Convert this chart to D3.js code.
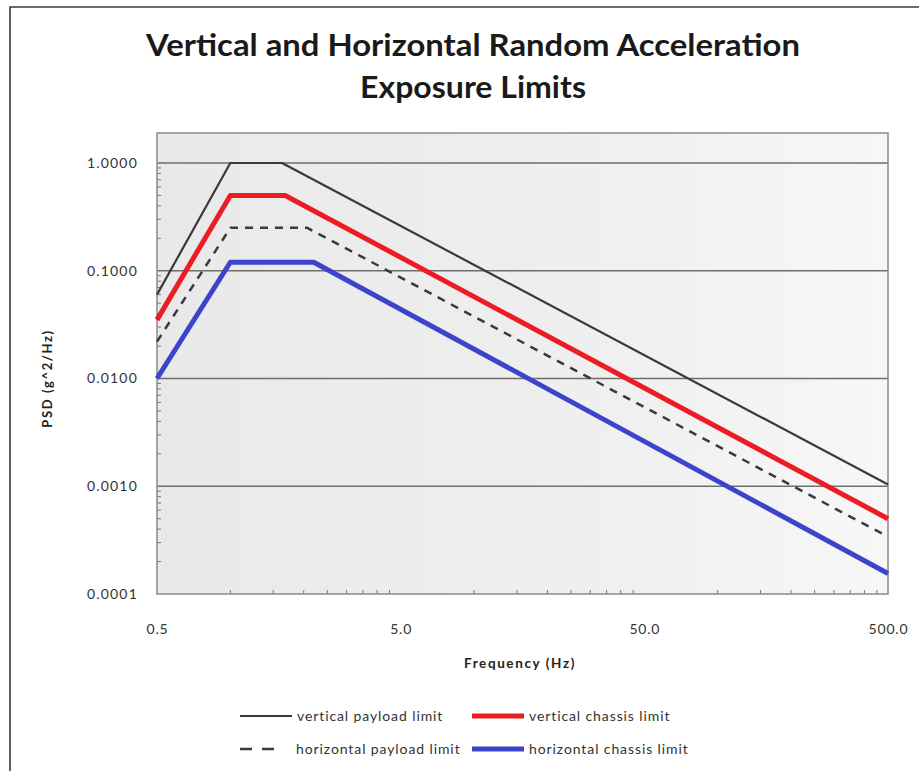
<!DOCTYPE html>
<html>
<head>
<meta charset="utf-8">
<script src="https://cdn.jsdelivr.net/npm/d3@7"></script>
<style>
  html, body { margin: 0; padding: 0; background: #fff; }
  svg { display: block; }
  text { font-family: Lato, "Open Sans", sans-serif; }
</style>
</head>
<body>
<svg id="chart" width="919" height="771"></svg>
<script>
// Frequency (Hz) break points and PSD (g^2/Hz) levels for each limit curve
const seriesNames = ["vertical payload limit", "vertical chassis limit",
                     "horizontal payload limit", "horizontal chassis limit"];
const verticalPayloadFreq   = [0.5, 1.0, 1.63, 500];
const verticalPayloadPSD    = [0.06, 1.0, 1.0, 0.00104];
const verticalChassisFreq   = [0.5, 1.0, 1.68, 500];
const verticalChassisPSD    = [0.035, 0.5, 0.5, 0.0005];
const horizontalPayloadFreq = [0.5, 1.0, 2.07, 500];
const horizontalPayloadPSD  = [0.022, 0.25, 0.25, 0.00034];
const horizontalChassisFreq = [0.5, 1.0, 2.2, 500];
const horizontalChassisPSD  = [0.01, 0.12, 0.12, 0.000155];

const xTickValues = [0.5, 5, 50, 500];
const xTickLabels = ["0.5", "5.0", "50.0", "500.0"];
const yTickValues = [0.0001, 0.001, 0.01, 0.1, 1];
const yTickLabels = ["0.0001", "0.0010", "0.0100", "0.1000", "1.0000"];

const titleLines = ["Vertical and Horizontal Random Acceleration", "Exposure Limits"];
const xTitle = "Frequency (Hz)";
const yTitle = "PSD (g^2/Hz)";

const svg = d3.select("#chart");
const W = 919, H = 771;

// plot geometry
const plot = { left: 157, right: 888, top: 133, bottom: 594, yTop: 163 };

const x = d3.scaleLog().domain([0.5, 500]).range([plot.left, plot.right]);
const y = d3.scaleLog().domain([0.0001, 1]).range([plot.bottom, plot.yTop]);

// outer chart border (top and left edges)
svg.append("path")
  .attr("d", `M10,${H} L10,7 L${W},7`)
  .attr("fill", "none").attr("stroke", "#3a3a3a").attr("stroke-width", 1.6);

// title
const title = svg.append("g");
title.append("text").attr("x", 473).attr("y", 56)
  .attr("text-anchor", "middle").attr("font-weight", 700).attr("font-size", 31)
  .attr("fill", "#1a1a1a")
  .attr("textLength", 654).attr("lengthAdjust", "spacingAndGlyphs")
  .text(titleLines[0]);
title.append("text").attr("x", 473).attr("y", 98)
  .attr("text-anchor", "middle").attr("font-weight", 700).attr("font-size", 31)
  .attr("fill", "#1a1a1a")
  .attr("textLength", 226).attr("lengthAdjust", "spacingAndGlyphs")
  .text(titleLines[1]);

// plot background: light stippled gray, denser to the left
const defs = svg.append("defs");
const grad = defs.append("linearGradient").attr("id", "bg")
  .attr("x1", "0").attr("y1", "0").attr("x2", "1").attr("y2", "0");
grad.append("stop").attr("offset", "0").attr("stop-color", "#e9e9e9");
grad.append("stop").attr("offset", "0.6").attr("stop-color", "#efefef");
grad.append("stop").attr("offset", "1").attr("stop-color", "#f7f7f7");

svg.append("rect")
  .attr("x", plot.left).attr("y", plot.top)
  .attr("width", plot.right - plot.left).attr("height", plot.bottom - plot.top)
  .attr("fill", "url(#bg)");

// horizontal gridlines at each decade
svg.append("g").selectAll("line").data(yTickValues.slice(1)).join("line")
  .attr("x1", plot.left).attr("x2", plot.right)
  .attr("y1", d => y(d)).attr("y2", d => y(d))
  .attr("stroke", "#6e6e6e").attr("stroke-width", 1.5);

// minor ticks
const xMinor = [];
xTickValues.slice(0, -1).forEach(b => { for (let k = 2; k <= 9; k++) xMinor.push(b * k); });
const yMinor = [];
yTickValues.slice(0, -1).forEach(b => { for (let k = 2; k <= 9; k++) yMinor.push(b * k); });

svg.append("g").selectAll("line").data(xMinor).join("line")
  .attr("x1", d => x(d)).attr("x2", d => x(d))
  .attr("y1", plot.bottom).attr("y2", plot.bottom - 4)
  .attr("stroke", "#777").attr("stroke-width", 1);
svg.append("g").selectAll("line").data(yMinor).join("line")
  .attr("x1", plot.left).attr("x2", plot.left + 4)
  .attr("y1", d => y(d)).attr("y2", d => y(d))
  .attr("stroke", "#777").attr("stroke-width", 1);

// plot frame
svg.append("rect")
  .attr("x", plot.left).attr("y", plot.top)
  .attr("width", plot.right - plot.left).attr("height", plot.bottom - plot.top)
  .attr("fill", "none").attr("stroke", "#8a8a8a").attr("stroke-width", 1.5);

// axes (labels only)
const xAxis = d3.axisBottom(x).tickValues(xTickValues)
  .tickFormat((d, i) => xTickLabels[i]).tickSize(0).tickPadding(30);
const gx = svg.append("g").attr("transform", `translate(0,${plot.bottom})`).call(xAxis);
gx.select(".domain").remove();
gx.selectAll("text").attr("font-size", 14).attr("fill", "#333")
  .attr("letter-spacing", 0.8)
  .attr("font-family", "Lato, sans-serif");

const yAxis = d3.axisLeft(y).tickValues(yTickValues)
  .tickFormat((d, i) => yTickLabels[i]).tickSize(0).tickPadding(19);
const gy = svg.append("g").attr("transform", `translate(${plot.left},0)`).call(yAxis);
gy.select(".domain").remove();
gy.selectAll("text").attr("font-size", 14).attr("fill", "#333")
  .attr("letter-spacing", 1.2)
  .attr("font-family", "Lato, sans-serif");

// axis titles
svg.append("text").attr("x", 520).attr("y", 668)
  .attr("text-anchor", "middle").attr("font-size", 13.5).attr("font-weight", 700)
  .attr("letter-spacing", 1.6)
  .attr("fill", "#222").text(xTitle);
svg.append("text")
  .attr("transform", `translate(52,${(plot.yTop + plot.bottom) / 2}) rotate(-90)`)
  .attr("text-anchor", "middle").attr("font-size", 13).attr("font-weight", 700)
  .attr("letter-spacing", 1.6)
  .attr("fill", "#222").text(yTitle);

// curves
const series = [
  { name: seriesNames[0], f: verticalPayloadFreq,   p: verticalPayloadPSD,   color: "#3a3a3a", width: 2.2, dash: null },
  { name: seriesNames[1], f: verticalChassisFreq,   p: verticalChassisPSD,   color: "#ec1c24", width: 5,   dash: null },
  { name: seriesNames[2], f: horizontalPayloadFreq, p: horizontalPayloadPSD, color: "#3a3a3a", width: 2.5, dash: "8,7" },
  { name: seriesNames[3], f: horizontalChassisFreq, p: horizontalChassisPSD, color: "#3c44cc", width: 5,   dash: null }
];

const line = d3.line().x(d => x(d[0])).y(d => y(d[1]));

svg.append("g").selectAll("path").data(series).join("path")
  .attr("d", s => line(s.f.map((f, i) => [f, s.p[i]])))
  .attr("fill", "none")
  .attr("stroke", s => s.color)
  .attr("stroke-width", s => s.width)
  .attr("stroke-dasharray", s => s.dash)
  .attr("stroke-linejoin", "round");

// legend
const legendPos = [
  { x: 240, y: 716 }, { x: 472, y: 716 },
  { x: 240, y: 749 }, { x: 472, y: 749 }
];
const lg = svg.append("g").selectAll("g").data(series).join("g")
  .attr("transform", (s, i) => `translate(${legendPos[i].x},${legendPos[i].y})`);
lg.append("line")
  .attr("x1", 0).attr("x2", (s, i) => i === 2 ? 34 : 52)
  .attr("y1", 0).attr("y2", 0)
  .attr("stroke", s => s.color)
  .attr("stroke-width", s => s.width)
  .attr("stroke-dasharray", (s, i) => i === 2 ? "12,10" : null);
lg.append("text")
  .attr("x", (s, i) => i === 2 ? 56 : 57).attr("y", 4.5)
  .attr("font-size", 14).attr("fill", "#333")
  .attr("letter-spacing", 0.9)
  .text(s => s.name);
</script>
</body>
</html>
